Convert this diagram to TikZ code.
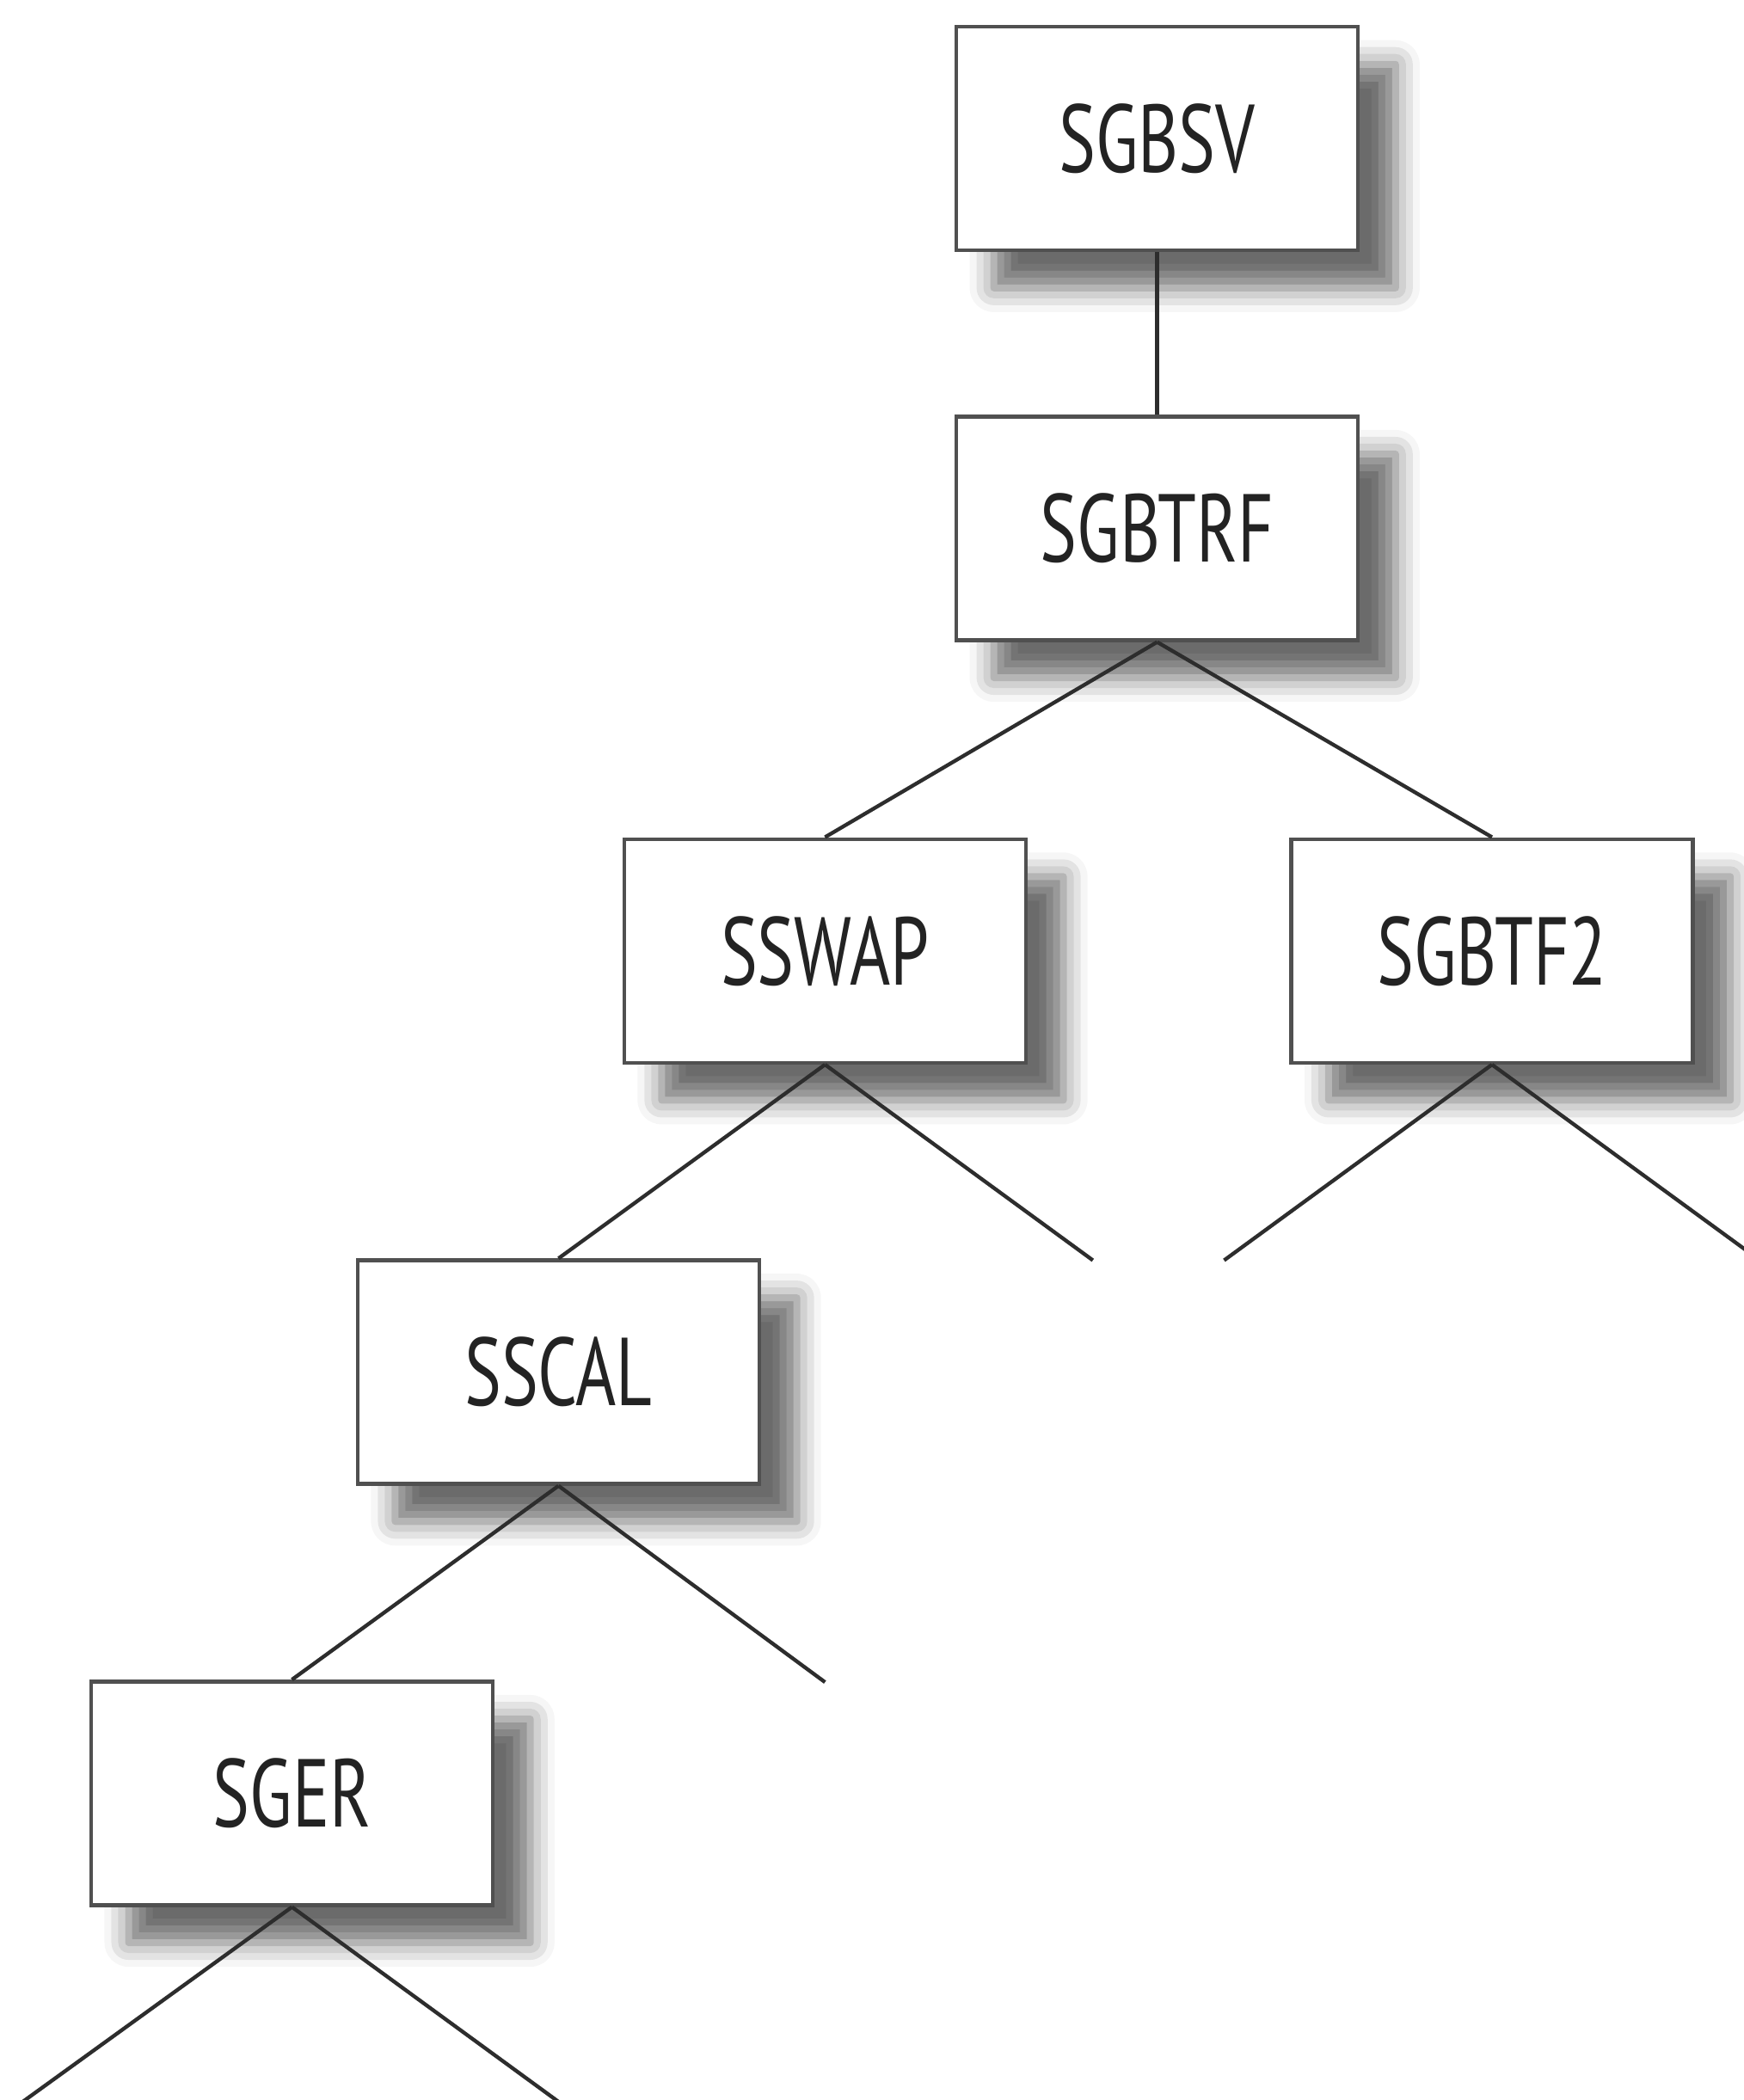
\documentclass[tikz,border=0pt]{standalone}
\usepackage{fontspec}
\setmainfont[FakeStretch=0.72]{PT Sans}
\usepackage{tikz}
\usetikzlibrary{shadows.blur}

\tikzset{
  routine/.style={draw={rgb,255:red,80;green,80;blue,80}, line width=1.4pt, fill=white,
    minimum width=150pt, minimum height=83.5pt, inner sep=0pt,
    font=\fontsize{36}{40}\selectfont, text={rgb,255:red,35;green,35;blue,35},
    blur shadow={shadow xshift=14pt, shadow yshift=-14pt, shadow blur radius=9pt,
      shadow opacity=58}},
  calls/.style={draw={rgb,255:red,45;green,45;blue,45}, line width=1.4pt}
}

\begin{document}
\begin{tikzpicture}[x=0.5pt,y=0.5pt,yscale=-1,xscale=1]
\useasboundingbox (0,0) rectangle (1302,1568);
\clip (0,0) rectangle (1302,1568);
% Routine boxes
\node [routine] (sgbsv) at (864,103.5) {SGBSV};
\node [routine] (sgbtrf) at (864,394.5) {SGBTRF};
\node [routine] (sswap) at (616,710) {SSWAP};
\node [routine] (sgbtf2) at (1114,710) {SGBTF2};
\node [routine] (sscal) at (417,1024.5) {SSCAL};
\node [routine] (sger) at (218,1339) {SGER};
% Open ends
\coordinate (sswapR) at (816,941);
\coordinate (sgbtfL) at (914,941);
\coordinate (sgbtfR) at (1314,941);
\coordinate (sscalR) at (616,1256);
\coordinate (sgerL) at (16,1570);
\coordinate (sgerR) at (418,1570);
% Call lines
\draw [calls] (sgbsv.south) -- (sgbtrf.north);
\draw [calls] (sgbtrf.south) -- (sswap.north);
\draw [calls] (sgbtrf.south) -- (sgbtf2.north);
\draw [calls] (sswap.south) -- (sscal.north);
\draw [calls] (sswap.south) -- (sswapR);
\draw [calls] (sgbtf2.south) -- (sgbtfL);
\draw [calls] (sgbtf2.south) -- (sgbtfR);
\draw [calls] (sscal.south) -- (sger.north);
\draw [calls] (sscal.south) -- (sscalR);
\draw [calls] (sger.south) -- (sgerL);
\draw [calls] (sger.south) -- (sgerR);
\end{tikzpicture}
\end{document}
